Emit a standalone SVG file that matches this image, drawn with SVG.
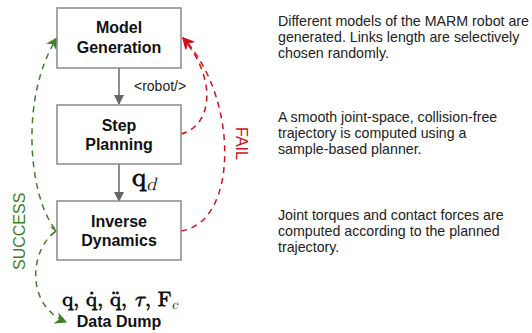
<svg xmlns="http://www.w3.org/2000/svg" width="532" height="333" viewBox="0 0 532 333">
<style>
.box{fill:#fff;stroke:#8a8a8a;stroke-width:1.5}
.bt{font-family:"Liberation Sans",Arial,sans-serif;font-weight:bold;font-size:16px;fill:#111;text-anchor:middle}
.desc{font-family:"Liberation Sans",Arial,sans-serif;font-size:14.2px;fill:#222}
.gray{fill:none;stroke:#666;stroke-width:1.5}
.green{fill:none;stroke:#3f7f26;stroke-width:1.5;stroke-dasharray:6 5}
.red{fill:none;stroke:#d0101a;stroke-width:1.5;stroke-dasharray:6 5}
.math{font-family:"Latin Modern Math","DejaVu Serif","Liberation Serif",serif;font-weight:bold;fill:#111}
</style>
<defs>
<marker id="ag" viewBox="0 0 10 10" refX="9" refY="5" markerWidth="10" markerHeight="10" markerUnits="userSpaceOnUse" orient="auto"><path d="M0,0 L10,5 L0,10 Z" fill="#666"/></marker>
<marker id="agr" viewBox="0 0 10 10" refX="9" refY="5" markerWidth="12" markerHeight="12" markerUnits="userSpaceOnUse" orient="auto"><path d="M0,0 L10,5 L0,10 L3,5 Z" fill="#3f7f26"/></marker>
<marker id="ar" viewBox="0 0 10 10" refX="9" refY="5" markerWidth="12" markerHeight="12" markerUnits="userSpaceOnUse" orient="auto"><path d="M0,0 L10,5 L0,10 L3,5 Z" fill="#d0101a"/></marker>
</defs>
<g id="connectors">
<path class="gray" d="M119,68 V104" marker-end="url(#ag)"/>
<path class="gray" d="M119,164 V201" marker-end="url(#ag)"/>
<path class="green" d="M55,229 C28,195 20,95 57,38" marker-end="url(#agr)"/>
<path class="green" d="M55,232 C30,250 25,305 66,322" marker-end="url(#agr)"/>
<path d="M51,227 L56,231 L51,235" fill="none" stroke="#3f7f26" stroke-width="1.5"/>
<path class="red" d="M181,134 C212,126 218,80 183,38" marker-end="url(#ar)"/>
<path class="red" d="M181,231 C240,222 238,95 183,38" marker-end="url(#ar)"/>
<text x="134" y="91" font-family="Liberation Sans,Arial,sans-serif" font-size="14" fill="#222">&lt;robot/&gt;</text>
<text class="math" x="132" y="186" font-size="27">q<tspan font-size="18" font-style="italic" font-weight="normal" dy="4">d</tspan></text>
<text transform="translate(236,127) rotate(90)" font-family="Liberation Sans,Arial,sans-serif" font-size="16" fill="#d0101a">FAIL</text>
<text transform="translate(25,270) rotate(-90)" font-family="Liberation Sans,Arial,sans-serif" font-size="16" fill="#3f7f26">SUCCESS</text>
</g>
<g id="model-generation">
<rect class="box" x="57" y="8" width="124" height="60"/>
<text class="bt" x="119" y="33">Model</text>
<text class="bt" x="119" y="53">Generation</text>
</g>
<g id="step-planning">
<rect class="box" x="57" y="105" width="124" height="59"/>
<text class="bt" x="119" y="131">Step</text>
<text class="bt" x="119" y="150">Planning</text>
</g>
<g id="inverse-dynamics">
<rect class="box" x="57" y="201" width="124" height="59"/>
<text class="bt" x="119" y="227">Inverse</text>
<text class="bt" x="119" y="246">Dynamics</text>
</g>
<g id="data-dump">
<text class="math" x="120" y="306" font-size="21" text-anchor="middle">q, q̇, q̈, <tspan font-style="italic">τ</tspan>, F<tspan font-size="14" font-style="italic" font-weight="normal" dy="3">c</tspan></text>
<text class="bt" x="119" y="327">Data Dump</text>
</g>
<g id="descriptions">
<text class="desc" x="278" y="26" textLength="251" lengthAdjust="spacingAndGlyphs">Different models of the MARM robot are</text>
<text class="desc" x="278" y="42">generated. Links length are selectively</text>
<text class="desc" x="278" y="58">chosen randomly.</text>
<text class="desc" x="278" y="122">A smooth joint-space, collision-free</text>
<text class="desc" x="278" y="138">trajectory is computed using a</text>
<text class="desc" x="278" y="154">sample-based planner.</text>
<text class="desc" x="278" y="220">Joint torques and contact forces are</text>
<text class="desc" x="278" y="236">computed according to the planned</text>
<text class="desc" x="278" y="252">trajectory.</text>
</g>
</svg>
